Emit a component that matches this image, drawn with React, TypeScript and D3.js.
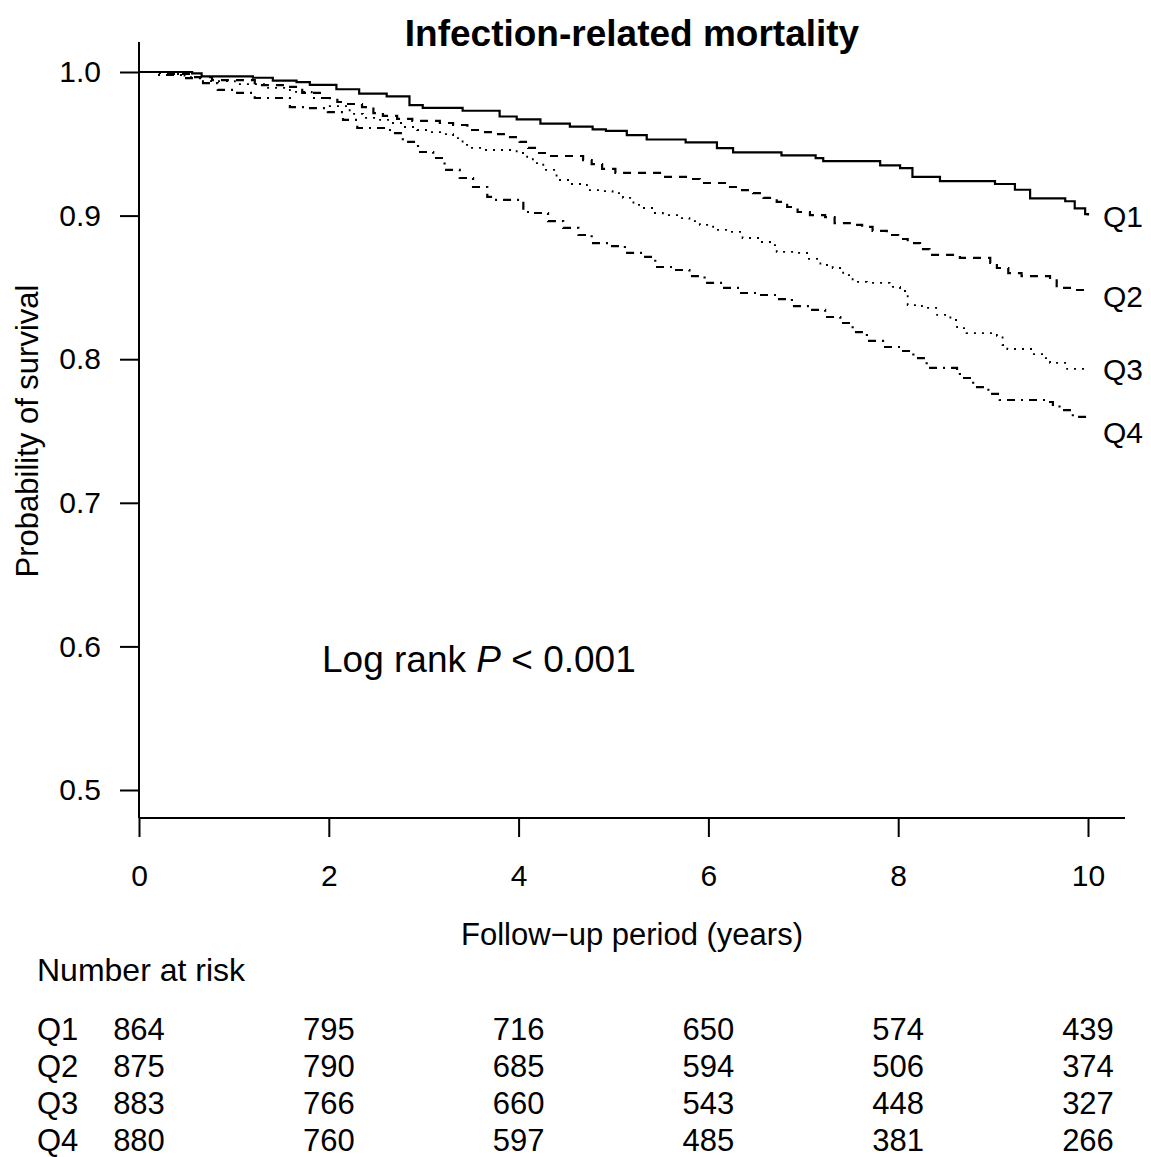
import { useEffect, useRef } from "react";
import * as d3 from "d3";

// Kaplan-Meier step points [years, survival]
const q1: [number, number][] = [
  [0, 1.0], [0.56, 0.999], [0.66, 0.997], [1.2, 0.996], [1.41, 0.994], [1.66, 0.993],
  [1.8, 0.991], [2.08, 0.988], [2.32, 0.985], [2.61, 0.983], [2.85, 0.977], [2.99, 0.975],
  [3.41, 0.973], [3.8, 0.969], [3.98, 0.967], [4.23, 0.964], [4.54, 0.962], [4.78, 0.96],
  [4.92, 0.959], [5.14, 0.956], [5.35, 0.953], [5.76, 0.951], [6.09, 0.947], [6.26, 0.944],
  [6.77, 0.942], [7.13, 0.94], [7.21, 0.938], [7.81, 0.935], [8.02, 0.933], [8.15, 0.927],
  [8.44, 0.924], [9.02, 0.922], [9.23, 0.918], [9.39, 0.912], [9.76, 0.91], [9.86, 0.905],
  [9.97, 0.901], [10, 0.9],
];
const q2: [number, number][] = [
  [0, 1.0], [0.22, 0.9986], [0.54, 0.9965], [0.77, 0.9944], [1.22, 0.9909], [1.54, 0.9896],
  [1.72, 0.9854], [1.93, 0.9819], [2.09, 0.9791], [2.19, 0.9777], [2.35, 0.9756], [2.47, 0.9714],
  [2.57, 0.9694], [2.72, 0.9673], [2.88, 0.9659], [3.17, 0.9645], [3.31, 0.9631], [3.46, 0.9596],
  [3.59, 0.9582], [3.73, 0.9568], [3.88, 0.9547], [4.01, 0.9513], [4.1, 0.9471], [4.19, 0.9436],
  [4.33, 0.9415], [4.68, 0.9387], [4.77, 0.9359], [4.88, 0.9325], [5.02, 0.9297], [5.49, 0.9269],
  [5.8, 0.9255], [5.91, 0.9227], [6.2, 0.9199], [6.33, 0.9178], [6.47, 0.9157], [6.58, 0.9123],
  [6.72, 0.9095], [6.83, 0.906], [6.94, 0.9025], [7.07, 0.9004], [7.23, 0.899], [7.33, 0.8948],
  [7.49, 0.8935], [7.62, 0.8921], [7.73, 0.8893], [7.88, 0.8865], [8.0, 0.8837], [8.1, 0.8809],
  [8.23, 0.8767], [8.33, 0.8726], [8.65, 0.8705], [8.97, 0.867], [9.04, 0.8635], [9.16, 0.86],
  [9.3, 0.8579], [9.6, 0.8558], [9.67, 0.8496], [9.83, 0.8482], [10, 0.8468],
];
const q3: [number, number][] = [
  [0, 1.0], [0.27, 0.9986], [0.48, 0.9965], [0.66, 0.9937], [1.01, 0.9916], [1.36, 0.9889],
  [1.59, 0.9861], [1.82, 0.9819], [2.01, 0.9763], [2.22, 0.9708], [2.36, 0.968], [2.54, 0.9666],
  [2.64, 0.9645], [2.78, 0.9617], [2.93, 0.9596], [3.07, 0.9582], [3.2, 0.9568], [3.31, 0.954],
  [3.41, 0.9492], [3.49, 0.9471], [3.62, 0.9457], [3.98, 0.9436], [4.09, 0.9401], [4.15, 0.9366],
  [4.26, 0.9318], [4.4, 0.9248], [4.54, 0.922], [4.72, 0.9178], [4.89, 0.9171], [4.99, 0.9157],
  [5.1, 0.9123], [5.21, 0.9074], [5.31, 0.9053], [5.42, 0.9018], [5.52, 0.9004], [5.7, 0.8983],
  [5.8, 0.8962], [5.91, 0.8935], [6.05, 0.89], [6.23, 0.8886], [6.36, 0.8844], [6.54, 0.8816],
  [6.65, 0.8795], [6.72, 0.8747], [6.93, 0.874], [7.04, 0.8698], [7.18, 0.8656], [7.31, 0.8635],
  [7.42, 0.8586], [7.52, 0.8538], [7.67, 0.8531], [7.91, 0.8503], [8.02, 0.8475], [8.1, 0.8377],
  [8.25, 0.8357], [8.41, 0.8308], [8.55, 0.8273], [8.62, 0.8217], [8.72, 0.8182], [9.04, 0.8162],
  [9.1, 0.8099], [9.15, 0.8071], [9.42, 0.8036], [9.53, 0.8008], [9.6, 0.7974], [9.78, 0.7932],
  [10, 0.7932],
];
const q4: [number, number][] = [
  [0, 1.0], [0.19, 0.9979], [0.48, 0.9958], [0.66, 0.9923], [0.83, 0.9875], [1.01, 0.9854],
  [1.22, 0.9819], [1.59, 0.9756], [1.78, 0.9749], [1.99, 0.9721], [2.15, 0.9666], [2.3, 0.961],
  [2.61, 0.9596], [2.68, 0.9575], [2.78, 0.9513], [2.94, 0.9443], [3.1, 0.9401], [3.22, 0.9318],
  [3.38, 0.9262], [3.52, 0.9199], [3.67, 0.913], [3.73, 0.9109], [4.05, 0.9025], [4.15, 0.9018],
  [4.31, 0.8962], [4.47, 0.8914], [4.63, 0.8865], [4.77, 0.8809], [4.96, 0.8788], [5.12, 0.874],
  [5.31, 0.8712], [5.44, 0.8642], [5.63, 0.8621], [5.8, 0.8579], [5.96, 0.8531], [6.15, 0.8496],
  [6.33, 0.8461], [6.54, 0.8447], [6.72, 0.8419], [6.88, 0.837], [7.07, 0.8343], [7.23, 0.8294],
  [7.39, 0.8252], [7.52, 0.8189], [7.67, 0.8127], [7.84, 0.8085], [8.02, 0.8057], [8.16, 0.8008],
  [8.3, 0.7939], [8.62, 0.7918], [8.65, 0.7869], [8.79, 0.7806], [8.95, 0.7758], [9.07, 0.7716],
  [9.57, 0.7702], [9.63, 0.7681], [9.7, 0.7646], [9.84, 0.7598], [10, 0.7598],
];

const groups = ["Q1", "Q2", "Q3", "Q4"];
const curves = [q1, q2, q3, q4];
const dashes = [null, "8,7", "2,6", "2,6,8,6"];
const widths = [2.2, 2.2, 1.8, 2.2];
const labelShift = [0, 4, 0, 15];

const xTicks = [0, 2, 4, 6, 8, 10];
const yTicks = [0.5, 0.6, 0.7, 0.8, 0.9, 1.0];

const riskTimes = [0, 2, 4, 6, 8, 10];
const riskQ1 = [864, 795, 716, 650, 574, 439];
const riskQ2 = [875, 790, 685, 594, 506, 374];
const riskQ3 = [883, 766, 660, 543, 448, 327];
const riskQ4 = [880, 760, 597, 485, 381, 266];
const riskRows = [riskQ1, riskQ2, riskQ3, riskQ4];

const FONT = "'Liberation Sans', Arial, Helvetica, sans-serif";

const App = () => {
  const svgRef = useRef<SVGSVGElement>(null);

  useEffect(() => {
    const svg = d3.select(svgRef.current);
    svg.selectAll("*").remove();
    svg.style("font-family", FONT);

    const x = d3.scaleLinear().domain([0, 10]).range([139, 1088]);
    const y = d3.scaleLinear().domain([0.5, 1]).range([790, 72]);

    // title
    svg.append("text").attr("x", 632).attr("y", 46).attr("text-anchor", "middle")
      .style("font-size", "37px").style("font-weight", "bold").text("Infection-related mortality");

    // frame (L-shaped box)
    svg.append("line").attr("x1", 139).attr("x2", 139).attr("y1", 42).attr("y2", 818)
      .attr("stroke", "#000").attr("stroke-width", 2);
    svg.append("line").attr("x1", 139).attr("x2", 1125).attr("y1", 818).attr("y2", 818)
      .attr("stroke", "#000").attr("stroke-width", 2);

    const yAxis = svg.append("g").attr("transform", "translate(139,0)")
      .call(d3.axisLeft(y).tickValues(yTicks).tickFormat(d3.format(".1f")).tickSize(19).tickPadding(19));
    const xAxis = svg.append("g").attr("transform", "translate(0,818)")
      .call(d3.axisBottom(x).tickValues(xTicks).tickFormat(d3.format("d")).tickSize(19).tickPadding(28));
    [yAxis, xAxis].forEach((a) => {
      a.select(".domain").remove();
      a.selectAll("line").attr("stroke", "#000").attr("stroke-width", 2);
      a.selectAll("text").attr("fill", "#000").style("font-size", "30px").style("font-family", FONT);
    });

    // axis titles
    svg.append("text").attr("x", 632).attr("y", 945).attr("text-anchor", "middle")
      .style("font-size", "31px").text("Follow\u2212up period (years)");
    svg.append("text").attr("transform", "translate(38,431) rotate(-90)").attr("text-anchor", "middle")
      .style("font-size", "31px").text("Probability of survival");

    // survival curves
    const line = d3.line<[number, number]>().x((d) => x(d[0])).y((d) => y(d[1])).curve(d3.curveStepAfter);
    curves.forEach((c, i) => {
      const p = svg.append("path").datum(c).attr("d", line).attr("fill", "none")
        .attr("stroke", "#000").attr("stroke-width", widths[i]);
      if (dashes[i]) p.attr("stroke-dasharray", dashes[i]);
      const last = c[c.length - 1];
      svg.append("text").attr("x", x(last[0]) + 15).attr("y", y(last[1]) + labelShift[i] + 11)
        .style("font-size", "30px").text(groups[i]);
    });

    // log-rank annotation
    const lr = svg.append("text").attr("x", 322).attr("y", 672).style("font-size", "37px");
    lr.append("tspan").text("Log rank ");
    lr.append("tspan").style("font-style", "italic").text("P");
    lr.append("tspan").text(" < 0.001");

    // number at risk table
    svg.append("text").attr("x", 37).attr("y", 981).style("font-size", "32px").text("Number at risk");
    riskRows.forEach((row, r) => {
      const yy = 1040 + r * 37;
      svg.append("text").attr("x", 37).attr("y", yy).style("font-size", "31px").text(groups[r]);
      row.forEach((v, j) => {
        svg.append("text").attr("x", x(riskTimes[j])).attr("y", yy)
          .attr("text-anchor", "middle").style("font-size", "31px").text(v);
      });
    });
  }, []);

  return (
    <svg ref={svgRef} width={1151} height={1157}
      style={{ position: "absolute", left: 0, top: 0, background: "#fff" }} />
  );
};

export default App;
